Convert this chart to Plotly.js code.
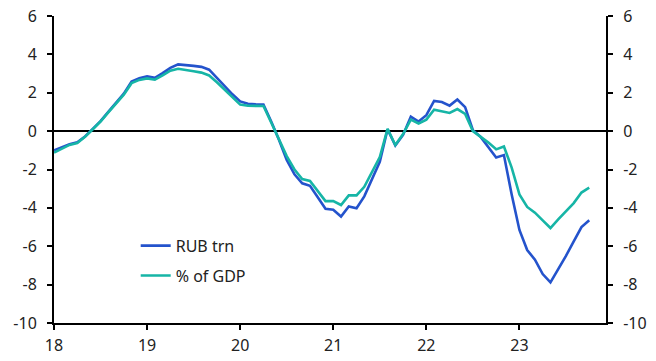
<!DOCTYPE html>
<html>
<head>
<meta charset="utf-8">
<script src="https://cdn.plot.ly/plotly-3.0.1.min.js"></script>
<style>html,body{margin:0;padding:0;background:#fff;}#chart{width:656px;height:361px;}</style>
</head>
<body>
<div id="chart"></div>
<script>
// Monthly data, Jan 2018 - Oct 2023
const startYear = 18;
const rubTrn = [
  -1.0, -0.85, -0.68, -0.58, -0.28, 0.12, 0.52, 1.0, 1.45, 1.95, 2.58, 2.75,
  2.85, 2.78, 3.02, 3.3, 3.48, 3.45, 3.4, 3.35, 3.2, 2.78, 2.35, 1.92,
  1.55, 1.43, 1.4, 1.39, 0.5, -0.45, -1.5, -2.25, -2.72, -2.85, -3.45, -4.05,
  -4.1, -4.45, -3.93, -4.02, -3.4, -2.5, -1.6, 0.1, -0.75, -0.2, 0.75, 0.5,
  0.83, 1.57, 1.52, 1.33, 1.65, 1.25, 0.05, -0.3, -0.85, -1.38, -1.25, -3.3,
  -5.15, -6.2, -6.7, -7.45, -7.88, -7.2, -6.5, -5.75, -5.0, -4.65
];
const pctGdp = [
  -1.12, -0.9, -0.72, -0.62, -0.3, 0.1, 0.5, 0.98, 1.42, 1.9, 2.5, 2.67,
  2.75, 2.68, 2.9, 3.15, 3.25, 3.2, 3.12, 3.05, 2.9, 2.55, 2.15, 1.75,
  1.38, 1.32, 1.3, 1.31, 0.45, -0.45, -1.3, -2.0, -2.5, -2.6, -3.15, -3.65,
  -3.65, -3.85, -3.35, -3.35, -2.9, -2.1, -1.35, 0.12, -0.72, -0.15, 0.6, 0.4,
  0.6, 1.12, 1.05, 0.95, 1.15, 0.9, 0.0, -0.3, -0.6, -0.95, -0.8, -1.9,
  -3.3, -3.95, -4.25, -4.65, -5.05, -4.6, -4.2, -3.75, -3.2, -2.95
];
const xTickVals = [18, 19, 20, 21, 22, 23];
const xTickText = ['18', '19', '20', '21', '22', '23'];
const yTickVals = [-10, -8, -6, -4, -2, 0, 2, 4, 6];
const yTickText = ['-10', '-8', '-6', '-4', '-2', '0', '2', '4', '6'];
const seriesNames = ['RUB trn', '% of GDP'];

const months = rubTrn.map((_, i) => startYear + i / 12);

const FONT = 'Noto Sans, Open Sans, sans-serif';
const TICKFONT = {family: FONT, size: 16, color: '#222'};
const traces = [
  {x: months, y: rubTrn, name: seriesNames[0], type: 'scatter', mode: 'lines',
   line: {color: '#2453CC', width: 2.6}, legendgroup: 'a'},
  {x: months, y: pctGdp, name: seriesNames[1], type: 'scatter', mode: 'lines',
   line: {color: '#16B5A6', width: 2.6}, legendgroup: 'b'},
  // invisible carrier so the right-hand axis is drawn
  {x: months, y: pctGdp, yaxis: 'y2', type: 'scatter', mode: 'lines', opacity: 0,
   showlegend: false, hoverinfo: 'skip', line: {width: 0}}
];

const layout = {
  width: 656, height: 361,
  margin: {l: 54, r: 50, t: 15.5, b: 37.5},
  paper_bgcolor: '#fff', plot_bgcolor: '#fff',
  font: {family: FONT, size: 16, color: '#222'},
  showlegend: true,
  legend: {x: 0.148, y: 0.307, xanchor: 'left', yanchor: 'top', bgcolor: 'rgba(0,0,0,0)',
           traceorder: 'grouped', tracegroupgap: 6, font: {family: FONT, size: 16, color: '#222'}},
  xaxis: {range: [18, 23.93], tickvals: xTickVals, ticktext: xTickText,
          showgrid: false, zeroline: false, showline: true, linecolor: '#000', linewidth: 2,
          ticks: 'outside', ticklen: 5, tickwidth: 2, tickcolor: '#000', tickfont: TICKFONT,
          ticklabelstandoff: 2},
  yaxis: {range: [-10, 6], tickvals: yTickVals, ticktext: yTickText, showgrid: false,
          zeroline: true, zerolinecolor: '#000', zerolinewidth: 2,
          showline: true, linecolor: '#000', linewidth: 2,
          ticks: 'outside', ticklen: 5, tickwidth: 2, tickcolor: '#000', tickfont: TICKFONT,
          ticklabelstandoff: 7},
  yaxis2: {range: [-10, 6], tickvals: yTickVals, ticktext: yTickText, overlaying: 'y', side: 'right',
           showgrid: false, zeroline: false, showline: true, linecolor: '#000', linewidth: 2,
           ticks: 'outside', ticklen: 5, tickwidth: 2, tickcolor: '#000', tickfont: TICKFONT,
           ticklabelstandoff: 7}
};

Plotly.newPlot('chart', traces, layout, {staticPlot: true, displayModeBar: false});
</script>
</body>
</html>
